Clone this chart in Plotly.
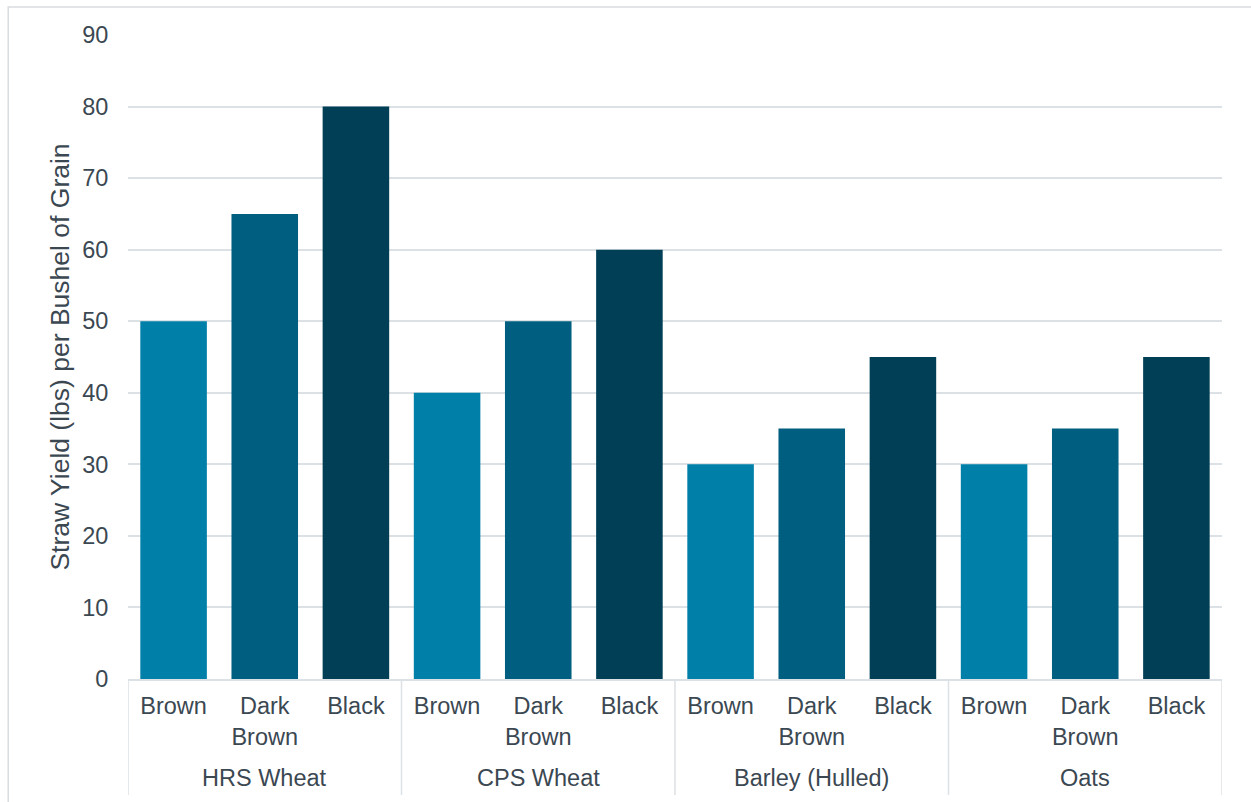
import plotly.graph_objects as go

crops = ["HRS Wheat", "CPS Wheat", "Barley (Hulled)", "Oats"]
zones = ["Brown", "Dark Brown", "Black"]
zone_labels = ["Brown", "Dark<br>Brown", "Black"]
values = {
    "HRS Wheat": [50, 65, 80],
    "CPS Wheat": [40, 50, 60],
    "Barley (Hulled)": [30, 35, 45],
    "Oats": [30, 35, 45],
}
colors = ["#0080A9", "#005F80", "#003F56"]
y_ticks = [0, 10, 20, 30, 40, 50, 60, 70, 80, 90]

text_color = "#3B4852"
grid_color = "#DCE1E5"
font_family = "Liberation Sans, Arial, sans-serif"
tick_size = 23.5

xs, ys, cs, tt = [], [], [], []
i = 0
for crop in crops:
    for j, z in enumerate(zones):
        xs.append(i)
        ys.append(values[crop][j])
        cs.append(colors[j])
        tt.append(zone_labels[j])
        i += 1

fig = go.Figure()
fig.add_trace(go.Bar(x=xs, y=ys, marker=dict(color=cs, line=dict(width=0)),
                     width=0.73, showlegend=False, hoverinfo="skip"))

n = len(zones)
shapes = []
annotations = []
for g, crop in enumerate(crops):
    left = g * n - 0.5
    shapes.append(dict(type="line", xref="x", yref="paper", x0=left, x1=left,
                       y0=0, y1=-0.18, line=dict(color=grid_color, width=1.5)))
    annotations.append(dict(text=crop, xref="x", yref="paper", x=g * n + (n - 1) / 2,
                            y=-0.154, yanchor="middle", showarrow=False,
                            font=dict(size=tick_size, color=text_color, family=font_family)))
right = len(crops) * n - 0.5
shapes.append(dict(type="line", xref="x", yref="paper", x0=right, x1=right,
                   y0=0, y1=-0.18, line=dict(color=grid_color, width=1.5)))
# outer chart border
shapes.append(dict(type="rect", xref="paper", yref="paper", x0=-0.1095, x1=1.05,
                   y0=-0.2, y1=1.0435, line=dict(color="#D9DCDF", width=1.5),
                   layer="below"))

fig.update_layout(
    width=1251, height=802,
    margin=dict(l=128, r=29, t=35, b=123),
    paper_bgcolor="white", plot_bgcolor="white",
    font=dict(family=font_family, size=tick_size, color=text_color),
    bargap=0.27,
    shapes=shapes,
    annotations=annotations,
    xaxis=dict(
        tickmode="array", tickvals=xs, ticktext=tt,
        range=[-0.5, right], showgrid=False, zeroline=False,
        showline=True, linecolor=grid_color, linewidth=1.5,
        ticks="outside", ticklen=5, tickcolor="rgba(0,0,0,0)",
        tickfont=dict(size=tick_size, color=text_color),
    ),
    yaxis=dict(
        range=[0, 90], tickvals=y_ticks, showgrid=True, gridcolor=grid_color,
        gridwidth=1.5, zeroline=False, showline=False,
        ticks="outside", ticklen=14, tickcolor="rgba(0,0,0,0)",
        tickfont=dict(size=tick_size, color=text_color),
        title=dict(text="Straw Yield (lbs) per Bushel of Grain",
                   font=dict(size=26.5, color=text_color), standoff=4),
    ),
)

fig.write_html("out.html")
